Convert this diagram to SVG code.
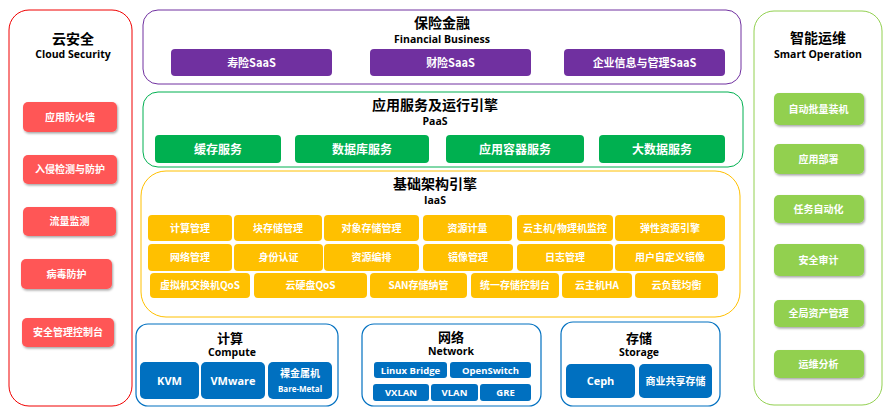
<svg xmlns="http://www.w3.org/2000/svg" width="895" height="411" viewBox="0 0 895 411">
<defs>
<filter id="sh" x="-10%" y="-20%" width="130%" height="160%">
<feDropShadow dx="1" dy="1.5" stdDeviation="1" flood-color="#000" flood-opacity="0.35"/>
</filter>
</defs>
<style>
text{font-family:"Noto Sans CJK SC","Liberation Sans",sans-serif;font-weight:bold;text-anchor:middle}
.t{font-size:14px;fill:#000}
.t13{font-size:13px;fill:#000}
.st{font-family:"Open Sans","Liberation Sans","Noto Sans CJK SC",sans-serif;font-size:10.5px;fill:#000}
.bt{font-size:10px;fill:#fff}
.bt11{font-size:11px;fill:#fff}
.bt12{font-size:12px;fill:#fff}
.en{font-family:"Open Sans","Liberation Sans","Noto Sans CJK SC",sans-serif;fill:#fff}
.red{fill:#FF5757}
.grn{fill:#92D050}
.pur{fill:#7030A0}
.paas{fill:#00B050}
.yel{fill:#FFC000}
.blu{fill:#0070C0}
</style>
<g id="cloud-security">
<rect x="9" y="10" width="123" height="396" rx="20" fill="#fff" stroke="#F00000" stroke-width="1"/>
<text class="t" x="73" y="43.5">云安全</text>
<text class="st" x="73" y="58">Cloud Security</text>
<g filter="url(#sh)">
<rect class="red" x="23" y="102" width="94" height="30" rx="5"/>
<rect class="red" x="23" y="155" width="94" height="29" rx="5"/>
<rect class="red" x="23" y="207" width="93" height="29" rx="5"/>
<rect class="red" x="21" y="259" width="91" height="30" rx="5"/>
<rect class="red" x="22" y="318" width="92" height="29" rx="5"/>
</g>
<text class="bt" x="70" y="120.5">应用防火墙</text>
<text class="bt" x="70" y="173">入侵检测与防护</text>
<text class="bt" x="69.5" y="225">流量监测</text>
<text class="bt" x="66.5" y="277.5">病毒防护</text>
<text class="bt" x="68" y="336">安全管理控制台</text>
</g>
<g id="financial">
<rect x="143" y="10" width="598" height="74" rx="15" fill="#fff" stroke="#7030A0" stroke-width="1"/>
<text class="t" x="442" y="28">保险金融</text>
<text class="st" x="442" y="43">Financial Business</text>
<rect class="pur" x="171" y="49" width="161" height="27" rx="4"/>
<rect class="pur" x="370" y="49" width="161" height="27" rx="4"/>
<rect class="pur" x="564" y="49" width="161" height="27" rx="4"/>
<text class="bt11" x="251.5" y="66.5">寿险SaaS</text>
<text class="bt11" x="450.5" y="66.5">财险SaaS</text>
<text class="bt11" x="644.5" y="66.5">企业信息与管理SaaS</text>
</g>
<g id="paas">
<rect x="143" y="92" width="600" height="75" rx="15" fill="#fff" stroke="#00B050" stroke-width="1"/>
<text class="t" x="435" y="110">应用服务及运行引擎</text>
<text class="st" x="435" y="124.5">PaaS</text>
<rect class="paas" x="155" y="135" width="126" height="28" rx="4"/>
<rect class="paas" x="295" y="135" width="134" height="28" rx="4"/>
<rect class="paas" x="446" y="135" width="138" height="28" rx="4"/>
<rect class="paas" x="599" y="135" width="126" height="28" rx="4"/>
<text class="bt12" x="218" y="153.5">缓存服务</text>
<text class="bt12" x="362" y="153.5">数据库服务</text>
<text class="bt12" x="515" y="153.5">应用容器服务</text>
<text class="bt12" x="662" y="153.5">大数据服务</text>
</g>
<g id="iaas">
<rect x="141" y="171" width="599" height="146" rx="25" fill="#fff" stroke="#FFC000" stroke-width="1"/>
<text class="t" x="435" y="189">基础架构引擎</text>
<text class="st" x="435" y="204">IaaS</text>
<g class="yel">
<rect x="148" y="215" width="84" height="26" rx="4"/>
<rect x="234" y="215" width="88" height="26" rx="4"/>
<rect x="324" y="215" width="95" height="26" rx="4"/>
<rect x="423" y="215" width="89" height="26" rx="4"/>
<rect x="517" y="215" width="96" height="26" rx="4"/>
<rect x="615" y="215" width="110" height="26" rx="4"/>
<rect x="148" y="244" width="84" height="27" rx="4"/>
<rect x="234" y="244" width="89" height="27" rx="4"/>
<rect x="324" y="244" width="95" height="27" rx="4"/>
<rect x="423" y="244" width="90" height="27" rx="4"/>
<rect x="517" y="244" width="96" height="27" rx="4"/>
<rect x="615" y="244" width="110" height="27" rx="4"/>
<rect x="150" y="273" width="100" height="25" rx="4"/>
<rect x="254" y="273" width="113" height="25" rx="4"/>
<rect x="370" y="273" width="97" height="25" rx="4"/>
<rect x="471" y="273" width="88" height="25" rx="4"/>
<rect x="562" y="273" width="70" height="25" rx="4"/>
<rect x="635" y="273" width="83" height="25" rx="4"/>
</g>
<text class="bt" x="190" y="231.5">计算管理</text>
<text class="bt" x="278" y="231.5">块存储管理</text>
<text class="bt" x="371.5" y="231.5">对象存储管理</text>
<text class="bt" x="467.5" y="231.5">资源计量</text>
<text class="bt" x="565" y="231.5">云主机/物理机监控</text>
<text class="bt" x="670" y="231.5">弹性资源引擎</text>
<text class="bt" x="190" y="261">网络管理</text>
<text class="bt" x="278.5" y="261">身份认证</text>
<text class="bt" x="371.5" y="261">资源编排</text>
<text class="bt" x="468" y="261">镜像管理</text>
<text class="bt" x="565" y="261">日志管理</text>
<text class="bt" x="670" y="261">用户自定义镜像</text>
<text class="bt" x="200" y="289">虚拟机交换机QoS</text>
<text class="bt" x="310.5" y="289">云硬盘QoS</text>
<text class="bt" x="418.5" y="289">SAN存储纳管</text>
<text class="bt" x="515" y="289">统一存储控制台</text>
<text class="bt" x="597" y="289">云主机HA</text>
<text class="bt" x="676.5" y="289">云负载均衡</text>
</g>
<g id="compute">
<rect x="136" y="324" width="202" height="82" rx="12" fill="#fff" stroke="#0070C0" stroke-width="1.2"/>
<text class="t13" x="230" y="342.5">计算</text>
<text class="st" x="232" y="356">Compute</text>
<rect class="blu" x="140" y="362" width="59" height="37" rx="5"/>
<rect class="blu" x="201" y="362" width="64" height="37" rx="5"/>
<rect class="blu" x="268" y="362" width="64" height="37" rx="5"/>
<text class="en" x="169.5" y="384.5" style="font-size:11px">KVM</text>
<text class="en" x="233" y="384.5" style="font-size:11px">VMware</text>
<text class="bt" x="300" y="377">裸金属机</text>
<text class="en" x="300" y="392" style="font-size:8px">Bare-Metal</text>
</g>
<g id="network">
<rect x="362" y="324" width="179" height="82" rx="12" fill="#fff" stroke="#0070C0" stroke-width="1.2"/>
<text class="t13" x="451" y="341.5">网络</text>
<text class="st" x="451" y="355">Network</text>
<rect class="blu" x="374" y="362" width="73" height="16" rx="3"/>
<rect class="blu" x="450" y="362" width="81" height="16" rx="3"/>
<rect class="blu" x="373" y="384" width="56" height="17" rx="3"/>
<rect class="blu" x="431" y="384" width="47" height="17" rx="3"/>
<rect class="blu" x="480" y="384" width="51" height="17" rx="3"/>
<text class="en" x="410.5" y="373.5" style="font-size:9.5px">Linux Bridge</text>
<text class="en" x="490.5" y="373.5" style="font-size:9.5px">OpenSwitch</text>
<text class="en" x="401" y="396" style="font-size:9.5px">VXLAN</text>
<text class="en" x="454.5" y="396" style="font-size:9.5px">VLAN</text>
<text class="en" x="505.5" y="396" style="font-size:9.5px">GRE</text>
</g>
<g id="storage">
<rect x="561" y="322" width="159" height="84" rx="12" fill="#fff" stroke="#0070C0" stroke-width="1.2"/>
<text class="t13" x="639" y="342.5">存储</text>
<text class="st" x="639" y="356">Storage</text>
<rect class="blu" x="566" y="364" width="69" height="34" rx="5"/>
<rect class="blu" x="639" y="364" width="73" height="34" rx="5"/>
<text class="en" x="600.5" y="385" style="font-size:11px">Ceph</text>
<text class="bt" x="675.5" y="384.5">商业共享存储</text>
</g>
<g id="smart-operation">
<rect x="754" y="11" width="128" height="394" rx="20" fill="#fff" stroke="#92D050" stroke-width="1"/>
<text class="t" x="818" y="43">智能运维</text>
<text class="st" x="818" y="57.5">Smart Operation</text>
<g filter="url(#sh)">
<rect class="grn" x="774" y="93" width="90" height="32" rx="5"/>
<rect class="grn" x="774" y="144" width="90" height="30" rx="5"/>
<rect class="grn" x="774" y="195" width="90" height="28" rx="5"/>
<rect class="grn" x="774" y="244" width="90" height="32" rx="5"/>
<rect class="grn" x="774" y="300" width="90" height="27" rx="5"/>
<rect class="grn" x="774" y="350" width="90" height="28" rx="5"/>
</g>
<text class="bt" x="818.5" y="112.5">自动批量装机</text>
<text class="bt" x="818.5" y="162.5">应用部署</text>
<text class="bt" x="818.5" y="212.5">任务自动化</text>
<text class="bt" x="818.5" y="263.5">安全审计</text>
<text class="bt" x="818.5" y="317">全局资产管理</text>
<text class="bt" x="818.5" y="367.5">运维分析</text>
</g>
</svg>
